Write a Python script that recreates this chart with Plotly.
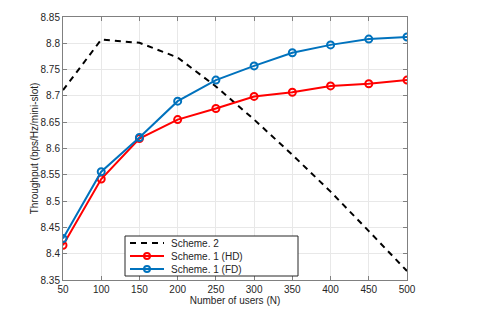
import plotly.graph_objects as go

users = [50, 100, 150, 200, 250, 300, 350, 400, 450, 500]
scheme2 = [8.711, 8.807, 8.801, 8.773, 8.718, 8.655, 8.588, 8.518, 8.443, 8.367]
scheme1_hd = [8.416, 8.542, 8.619, 8.655, 8.676, 8.699, 8.707, 8.719, 8.723, 8.730]
scheme1_fd = [8.429, 8.556, 8.621, 8.690, 8.730, 8.757, 8.782, 8.797, 8.808, 8.812]

x_ticks = [50, 100, 150, 200, 250, 300, 350, 400, 450, 500]
y_ticks = [8.35, 8.4, 8.45, 8.5, 8.55, 8.6, 8.65, 8.7, 8.75, 8.8, 8.85]
y_ticktext = ["8.35", "8.4", "8.45", "8.5", "8.55", "8.6", "8.65", "8.7", "8.75", "8.8", "8.85"]

names = ["Scheme. 2", "Scheme. 1 (HD)", "Scheme. 1 (FD)"]
colors = ["black", "#FF0000", "#0072BD"]

FONT = "Liberation Sans, Arial, sans-serif"
W, H = 485, 315
OFF = 8  # page body margin offset
# target plot box in screenshot pixels: left 63, top 17, right 407, bottom 280
ML, MT = 63 - OFF, 17 - OFF
MR, MB = W - 407 + OFF, H - 280 + OFF
PW, PH = W - ML - MR, H - MT - MB


def px(xp):
    return (xp - 63) / PW


def py(yp):
    return (280 - yp) / PH


fig = go.Figure()
fig.add_trace(go.Scatter(x=users, y=scheme2, mode="lines", name=names[0],
                         line=dict(color=colors[0], width=2, dash="6px,5px")))
fig.add_trace(go.Scatter(x=users, y=scheme1_hd, mode="lines+markers", name=names[1],
                         line=dict(color=colors[1], width=2),
                         marker=dict(symbol="circle-open", size=7, color=colors[1],
                                     line=dict(width=2, color=colors[1]))))
fig.add_trace(go.Scatter(x=users, y=scheme1_fd, mode="lines+markers", name=names[2],
                         line=dict(color=colors[2], width=2),
                         marker=dict(symbol="circle-open", size=7, color=colors[2],
                                     line=dict(width=2, color=colors[2]))))

axis_common = dict(showline=True, linecolor="#808080", linewidth=1, mirror="ticks",
                   ticks="inside", ticklen=4, tickcolor="#808080",
                   showgrid=True, gridcolor="#e8e8e8", gridwidth=1, zeroline=False,
                   automargin=False,
                   tickfont=dict(family=FONT, size=10, color="#262626"))

fig.update_xaxes(range=[50, 500], tickvals=x_ticks, title=dict(text="Number of users (N)",
                 font=dict(family=FONT, size=10, color="#262626"), standoff=2), **axis_common)
fig.update_yaxes(range=[8.35, 8.85], tickvals=y_ticks, ticktext=y_ticktext,
                 title=dict(text="Throughput (bps/Hz/mini-slot)",
                            font=dict(family=FONT, size=10, color="#262626"), standoff=0),
                 **axis_common)

# Manual MATLAB-style legend box
shapes = [dict(type="rect", xref="paper", yref="paper",
               x0=px(125), x1=px(298), y0=py(276), y1=py(236),
               line=dict(color="#262626", width=1), fillcolor="white", layer="above")]
annotations = []
row_y = [243, 256, 269]
for i, (nm, c) in enumerate(zip(names, colors)):
    yy = py(row_y[i])
    shapes.append(dict(type="line", xref="paper", yref="paper",
                       x0=px(130), x1=px(164), y0=yy, y1=yy, layer="above",
                       line=dict(color=c, width=2, dash="6px,5px" if i == 0 else "solid")))
    if i > 0:
        r = 3
        shapes.append(dict(type="circle", xref="paper", yref="paper",
                           x0=px(147 - r), x1=px(147 + r), y0=py(row_y[i] + r), y1=py(row_y[i] - r),
                           layer="above", line=dict(color=c, width=2), fillcolor="rgba(0,0,0,0)"))
    annotations.append(dict(xref="paper", yref="paper", x=px(169), y=yy, text=nm,
                            showarrow=False, xanchor="left", yanchor="middle",
                            font=dict(family=FONT, size=10, color="#262626")))

fig.update_layout(
    width=W, height=H,
    margin=dict(l=ML, r=MR, t=MT, b=MB),
    paper_bgcolor="white", plot_bgcolor="white",
    font=dict(family=FONT, size=10, color="#262626"),
    showlegend=False,
    shapes=shapes, annotations=annotations,
)

fig.write_html("out.html")
